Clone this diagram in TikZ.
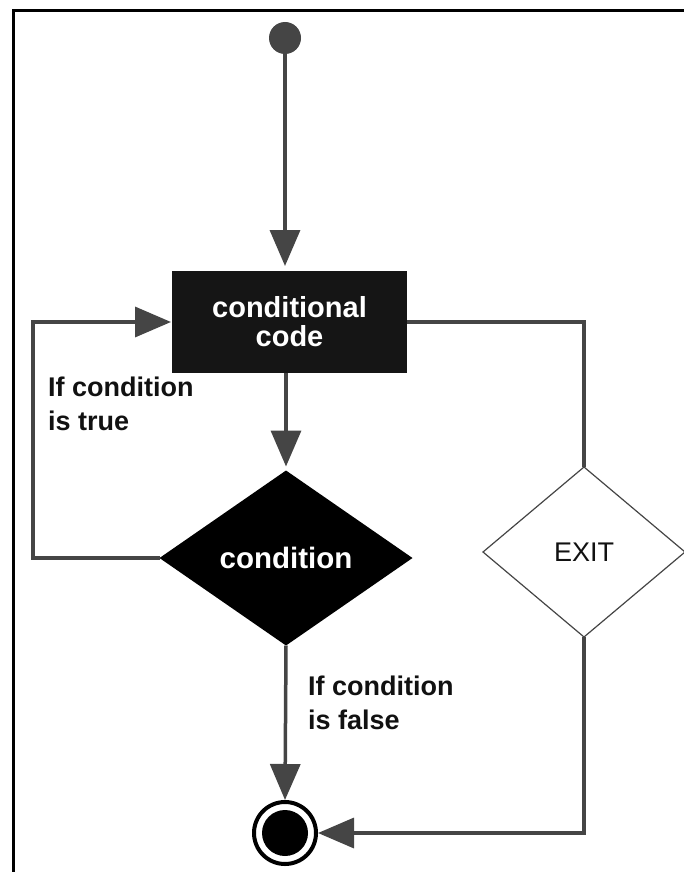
\documentclass[tikz,border=0pt]{standalone}
\usepackage{fontspec}
\setmainfont{Liberation Sans}
\usetikzlibrary{arrows.meta,shapes.geometric}
\definecolor{wire}{HTML}{454545}
\definecolor{ink}{HTML}{111111}
\definecolor{boxfill}{HTML}{151515}
\begin{document}
\begin{tikzpicture}[x=1pt,y=-1pt,
  wire/.style={draw=wire, line width=3.5pt},
  flow/.style={wire, -{Triangle[length=36pt,width=30pt]}},
  labelfont/.style={font=\fontsize{27}{34}\selectfont\bfseries},
  startdot/.style={circle, fill=wire, minimum size=32pt, inner sep=0pt},
  codebox/.style={rectangle, fill=boxfill, text=white, minimum width=235pt,
    minimum height=102pt, inner sep=0pt, outer sep=0pt, align=center,
    font=\fontsize{29}{29}\selectfont\bfseries},
  decision/.style={diamond, fill=black, text=white, minimum width=253pt,
    minimum height=175pt, inner sep=0pt, outer sep=0pt,
    font=\fontsize{29.5}{34}\selectfont\bfseries},
  exitbox/.style={diamond, draw=wire, line width=1.2pt, fill=white, text=ink,
    minimum width=202pt, minimum height=170pt, inner sep=0pt, outer sep=0pt,
    font=\fontsize{27}{33}\selectfont},
  finish/.style={circle, draw=black, line width=4pt, fill=white,
    minimum size=62pt, inner sep=0pt},
  finishdot/.style={circle, fill=black, minimum size=46pt, inner sep=0pt},
  note/.style={text=ink, align=left, inner sep=0pt, labelfont}
]
\useasboundingbox (0,0) rectangle (684,872);

% frame along the top and left edges
\draw[black, line width=3pt] (13.5,872) -- (13.5,10.5) -- (684,10.5);

% nodes
\node[startdot] (start) at (285,38) {};
\node[codebox] (code) at (289.5,322) {conditional\\code};
\node[decision] (cond) at (286,558) {condition};
\node[exitbox] (exit) at (584,552) {EXIT};
\node[finish] (end) at (285,833) {};
\node[finishdot] (enddot) at (end.center) {};
\coordinate (loop) at (33,322);

% labels
\node[note, anchor=north west] (truelbl) at (48,377) {If condition\\is true};
\node[note, anchor=north west] (falselbl) at (308,676) {If condition\\is false};

% connectors
\draw[flow, shorten >=5pt] (start) -- (start |- code.north);
\draw[flow, shorten >=4pt] (cond.north |- code.south) -- (cond.north);
\draw[flow, shorten >=1pt] (cond.west) -| (loop) -- (code.west);
\draw[wire] (code.east) -| (exit.north);
\draw[flow] (cond.south) -- (end.north);
\draw[flow] (exit.south) |- (end.east);
\end{tikzpicture}
\end{document}
